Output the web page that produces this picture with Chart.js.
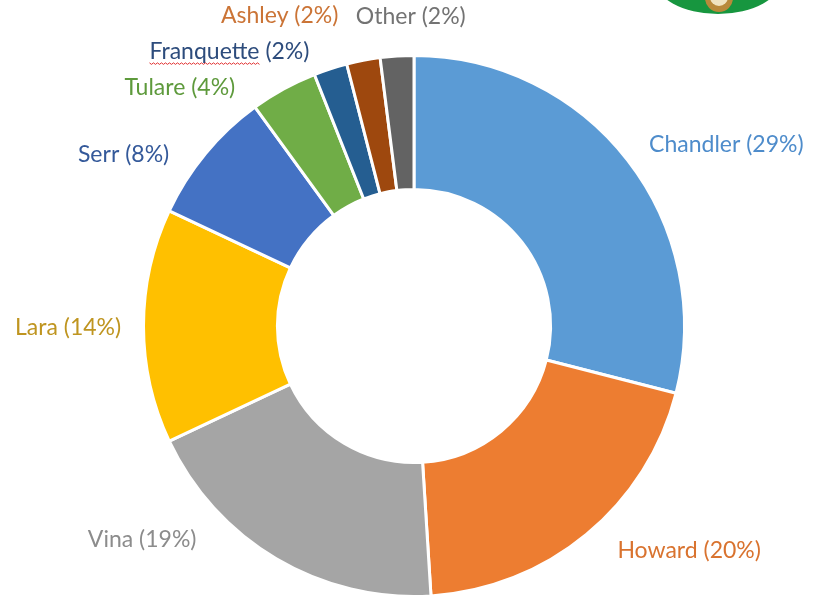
<!DOCTYPE html>
<html>
<head>
<meta charset="utf-8">
<script src="https://cdn.jsdelivr.net/npm/chart.js@4.4.1/dist/chart.umd.min.js"></script>
<style>
  html, body { margin:0; padding:0; background:#fff; overflow:hidden; }
  #wrap { width:813px; height:600px; position:relative; }
</style>
</head>
<body>
<div id="wrap"><canvas id="donut"></canvas></div>
<script>
"use strict";

const varieties = ["Chandler","Howard","Vina","Lara","Serr","Tulare","Franquette","Ashley","Other"];
const shares    = [29, 20, 19, 14, 8, 4, 2, 2, 2];

const SLICE = ["#5B9BD5","#ED7D31","#A5A5A5","#FFC000","#4472C4","#70AD47","#255E91","#9E480E","#636363"];
const LABEL = ["#4E8CCB","#D9732F","#8C8C8C","#BF9520","#34599A","#5E9A3C","#2D4C7C","#CB7436","#737373"];

// where Excel dropped each label: angle (deg, clockwise from top) and distance / outer radius
const labelAngle = [59.9, 129.2, 231.8, 269.7, 300.5, 315.5, 326.1, 336.6, 359.4];
const labelDist  = [1.342, 1.320, 1.286, 1.286, 1.253, 1.242, 1.230, 1.257, 1.152];

const FONT = "23px Lato, 'Open Sans', sans-serif";

const labelPlugin = {
  id: "outLabels",
  afterDatasetsDraw(chart) {
    const ctx = chart.ctx;
    const meta = chart.getDatasetMeta(0);
    ctx.save();
    ctx.font = FONT;
    ctx.textAlign = "center";
    ctx.textBaseline = "middle";
    meta.data.forEach((arc, i) => {
      const a = labelAngle[i] * Math.PI / 180;
      const r = 269 * labelDist[i];
      const x = arc.x + r * Math.sin(a);
      const y = arc.y - r * Math.cos(a);
      const txt = `${varieties[i]} (${shares[i]}%)`;
      ctx.fillStyle = LABEL[i];
      ctx.fillText(txt, x, y);
      if (varieties[i] === "Franquette") {
        // spell-check squiggle
        const full = ctx.measureText(txt).width;
        const w = ctx.measureText(varieties[i]).width;
        const x0 = x - full / 2, yy = y + 12;
        ctx.strokeStyle = "#E03030";
        ctx.lineWidth = 1;
        ctx.beginPath();
        for (let k = 0; k <= w; k += 2) {
          const py = yy + ((k / 2) % 2 ? 1 : -0.5);
          k === 0 ? ctx.moveTo(x0 + k, py) : ctx.lineTo(x0 + k, py);
        }
        ctx.stroke();
      }
    });
    ctx.restore();
  }
};

// bit of the logo peeking in at the top right
const logoPlugin = {
  id: "logo",
  afterDraw(chart) {
    const ctx = chart.ctx;
    ctx.save();
    ctx.fillStyle = "#17963F";
    ctx.beginPath();
    ctx.ellipse(718, -22, 64, 36, 0, 0, Math.PI * 2);
    ctx.fill();
    ctx.fillStyle = "#B8893A";
    ctx.beginPath();
    ctx.arc(719, -2, 14, 0, Math.PI * 2);
    ctx.fill();
    ctx.fillStyle = "#EFE3C0";
    ctx.beginPath();
    ctx.arc(719, -3, 9, 0, Math.PI * 2);
    ctx.fill();
    ctx.restore();
  }
};

new Chart(document.getElementById("donut"), {
  type: "doughnut",
  data: {
    labels: varieties,
    datasets: [{
      data: shares,
      backgroundColor: SLICE,
      borderColor: "#fff",
      borderWidth: 3,
      hoverOffset: 0
    }]
  },
  options: {
    responsive: true,
    maintainAspectRatio: false,
    animation: false,
    cutout: "50.5%",
    layout: { padding: { left: 142, right: 127, top: 54, bottom: 2 } },
    plugins: { legend: { display: false }, tooltip: { enabled: false } }
  },
  plugins: [labelPlugin, logoPlugin]
});
</script>
</body>
</html>
